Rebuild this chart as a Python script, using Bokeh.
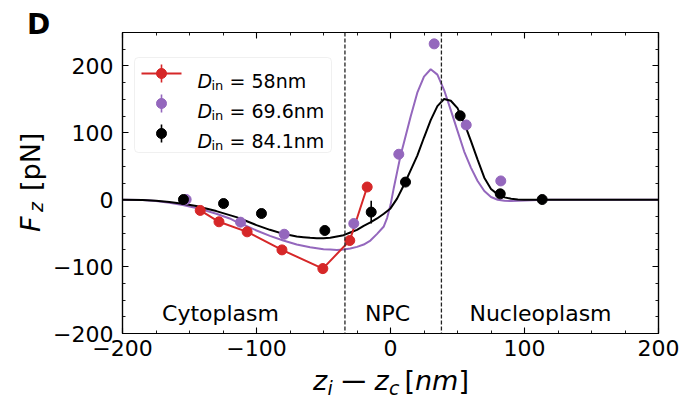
import math
from bokeh.plotting import figure
from bokeh.layouts import row, column
from bokeh.models import (LinearAxis, SingleIntervalTicker, Label, Span,
                          BoxAnnotation, Div)
from bokeh.embed import file_html
from bokeh.resources import INLINE

# ---------------- data ----------------
red_x = [-142, -128, -107, -81, -50.5, -30.4, -17.4]
red_y = [-16, -33, -48, -75, -103, -61, 19]
red_err = [3, 3, 3, 4, 7.5, 3, 3]

purple_x = [-152.5, -111.9, -79.3, -27.4, 6.2, 32.6, 56.5, 82.3]
purple_y = [0.3, -33.6, -51.6, -35.6, 68, 233, 111.8, 28.1]

black_x = [-154.5, -124.6, -96.3, -49, -14.4, 11.2, 52, 81.9, 113.2]
black_y = [0.3, -5.7, -20.6, -46, -18.5, 26.4, 125.5, 8.8, 0.3]
black_err = [1, 2, 3, 4, 17, 4, 4, 3, 1]

purple_curve_x = [-200, -185, -175, -165, -155, -145, -140, -130, -120, -115, -110, -100,
                  -90, -80, -70, -60, -50, -45, -40, -35, -30, -25, -20, -15, -10, -5,
                  -2.5, 0, 2.5, 5, 7.5, 10, 15, 20, 25, 30, 35, 40, 45, 50, 55, 60, 65,
                  70, 75, 80, 85, 90, 95, 100, 110, 120, 200]
purple_curve_y = [0, -0.5, -2, -4.5, -8, -12.5, -15, -21, -28, -33, -37, -46,
                  -54, -61, -67, -71, -74, -74.5, -75, -74.5, -73, -70.5, -67, -61, -51, -40,
                  -27, -8, 18, 42, 66, 85, 124, 160, 184, 195, 187, 164, 134, 103, 72, 48, 28,
                  13, 4, 0, -1.5, -2, -1.5, -1, -0.3, 0, 0]

black_curve_x = [-200, -185, -175, -165, -155, -145, -140, -130, -120, -115, -110, -100,
                 -90, -80, -70, -65, -60, -55, -50, -45, -40, -35, -30, -25, -20, -15, -10,
                 -5, 0, 5, 10, 15, 20, 25, 30, 35, 40, 45, 50, 55, 60, 65, 70, 75, 80, 85,
                 90, 95, 100, 200]
black_curve_y = [0, -0.5, -1.5, -3.5, -6, -9.5, -12, -17, -23, -26, -30, -38,
                 -45, -51, -55, -56, -57, -57.5, -57.5, -57, -55, -53, -49, -45, -39, -34, -28,
                 -21, -13, 2, 22, 44, 66, 93, 119, 140, 150.5, 148, 137, 115, 88, 60, 33, 16, 8, 3.5,
                 1.5, 0.5, 0, 0]

region_bounds = [-34, 38]
region_names = ["Cytoplasm", "NPC", "Nucleoplasm"]
legend_values = ["58nm", "69.6nm", "84.1nm"]
x_ticks_minus = {-200: "\u2212200", -100: "\u2212100"}
y_ticks_minus = {-200: "\u2212200", -100: "\u2212100"}

RED = "#d62728"
PURPLE = "#9467bd"
BLACK = "#000000"

# ---------------- layout ----------------
W, H = 683, 398
LEFT_DIV_W = 50          # column holding the y label and the panel letter
FIG_H = 365              # figure height; x label strip below it
FL, FR, FT, FB = 122, 658, 32, 333      # frame edges in page pixels
XMIN, XMAX, YMIN, YMAX = -200, 200, -200, 250
FONT = "DejaVu Sans"


def dx(px):
    return XMIN + (px - FL) * (XMAX - XMIN) / (FR - FL)


def dy(py):
    return YMAX - (py - FT) * (YMAX - YMIN) / (FB - FT)


p = figure(width=W - LEFT_DIV_W, height=FIG_H, x_range=(XMIN, XMAX), y_range=(YMIN, YMAX),
           output_backend="svg", toolbar_location=None,
           min_border_left=FL - LEFT_DIV_W, min_border_right=W - FR,
           min_border_top=FT, min_border_bottom=FIG_H - FB, margin=0)
p.xgrid.visible = False
p.ygrid.visible = False
p.background_fill_color = "white"
p.border_fill_color = "white"
p.outline_line_color = "black"
p.outline_line_width = 1.2


def style_axis(ax, show_labels, standoff):
    ax.ticker = SingleIntervalTicker(interval=100, num_minor_ticks=4)
    ax.axis_line_color = "black"
    ax.axis_line_width = 1.2
    ax.major_tick_line_color = "black"
    ax.minor_tick_line_color = "black"
    ax.major_tick_in = 6
    ax.major_tick_out = 0
    ax.minor_tick_in = 3
    ax.minor_tick_out = 0
    ax.major_tick_line_width = 1.1
    ax.minor_tick_line_width = 0.9
    ax.axis_label = None
    if show_labels:
        ax.major_label_text_font = FONT
        ax.major_label_text_font_size = "22px"
        ax.major_label_text_color = "black"
        ax.major_label_standoff = standoff
    else:
        ax.major_label_text_font_size = "1px"
        ax.major_label_text_color = None
        ax.major_label_text_alpha = 0
        ax.major_label_standoff = 0


style_axis(p.xaxis[0], True, 6)
style_axis(p.yaxis[0], True, 9)
p.xaxis[0].major_label_overrides = x_ticks_minus
p.yaxis[0].major_label_overrides = y_ticks_minus

top_ax = LinearAxis()
style_axis(top_ax, False, 0)
p.add_layout(top_ax, "above")
right_ax = LinearAxis()
style_axis(right_ax, False, 0)
p.add_layout(right_ax, "right")

# region boundaries
for b in region_bounds:
    p.add_layout(Span(location=b, dimension="height", line_color="#222222",
                      line_width=1.3, line_dash="4 2"))

# fitted curves
p.line(purple_curve_x, purple_curve_y, line_color=PURPLE, line_width=2)
p.line(black_curve_x, black_curve_y, line_color=BLACK, line_width=2)

# red series (line + error bars + markers)
p.line(red_x, red_y, line_color=RED, line_width=2)
p.segment(x0=red_x, y0=[y - e for y, e in zip(red_y, red_err)],
          x1=red_x, y1=[y + e for y, e in zip(red_y, red_err)],
          line_color=RED, line_width=1.6)
p.scatter(red_x, red_y, size=10, fill_color=RED, line_color=RED)

# purple markers
p.scatter(purple_x, purple_y, size=10, fill_color=PURPLE, line_color=PURPLE)

# black markers with error bars
p.segment(x0=black_x, y0=[y - e for y, e in zip(black_y, black_err)],
          x1=black_x, y1=[y + e for y, e in zip(black_y, black_err)],
          line_color=BLACK, line_width=1.6)
p.scatter(black_x, black_y, size=10, fill_color=BLACK, line_color=BLACK)

# region names
region_px = [220, 387, 540]
for name, cx in zip(region_names, region_px):
    p.add_layout(Label(x=dx(cx), y=dy(313), text=name, text_font=FONT,
                       text_font_size="22px", text_color="black",
                       text_align="center", text_baseline="alphabetic"))

# ---------------- legend (manual) ----------------
p.add_layout(BoxAnnotation(left=dx(134), right=dx(331), top=dy(57), bottom=dy(152),
                           fill_color="white", fill_alpha=0.8,
                           line_color="#cccccc", line_width=1, border_radius=4,
                           level="underlay"))
rows_py = [73, 103, 133]
colors = [RED, PURPLE, BLACK]
for i, (ry, col, val) in enumerate(zip(rows_py, colors, legend_values)):
    if i == 0:
        p.line([dx(141), dx(181)], [dy(ry), dy(ry)], line_color=col, line_width=2)
    p.segment(x0=[dx(161)], y0=[dy(ry + 9)], x1=[dx(161)], y1=[dy(ry - 9)],
              line_color=col, line_width=1.6)
    p.scatter([dx(161)], [dy(ry)], size=10, fill_color=col, line_color=col)
    p.add_layout(Label(x=dx(197), y=dy(ry + 7), text="D", text_font=FONT,
                       text_font_style="italic", text_font_size="19px",
                       text_color="black", text_baseline="alphabetic"))
    p.add_layout(Label(x=dx(211), y=dy(ry + 12), text="in", text_font=FONT,
                       text_font_size="13px", text_color="black",
                       text_baseline="alphabetic"))
    p.add_layout(Label(x=dx(229), y=dy(ry + 7), text="= " + val, text_font=FONT,
                       text_font_size="19px", text_color="black",
                       text_baseline="alphabetic"))


# ---------------- outside texts (HTML, mixed italic) ----------------
def span(text, left, baseline, size, style="normal", weight="normal", rotate=False,
         stretch=1.0):
    b = 0.846 * size  # baseline offset inside a line-height:1 box (DejaVu Sans)
    if rotate:
        pos = "left:%.1fpx;top:%.1fpx;transform-origin:0 0;transform:rotate(-90deg);" % (
            baseline - b, left)
    else:
        pos = "left:%.1fpx;top:%.1fpx;" % (left, baseline - b)
        if stretch != 1.0:
            pos += "transform-origin:0 0;transform:scaleX(%.2f);" % stretch
    return ('<span style="position:absolute;%swhite-space:nowrap;line-height:1;'
            'font-family:\'DejaVu Sans\';font-size:%dpx;font-style:%s;font-weight:%s;'
            'color:black;">%s</span>' % (pos, size, style, weight, text))


# y label pieces: (text, start y (bottom end), baseline x, size, style)
yl_parts = [("F", 232, 39.5, 27, "italic"), ("z", 211.5, 43.5, 19, "italic"),
            ("[pN]", 191, 39.5, 27, "normal")]
left_html = "".join(span(t, sy, bx, sz, st, rotate=True) for t, sy, bx, sz, st in yl_parts)
left_html += span("D", 27, 35, 28, weight="bold")
left_div = Div(text='<div style="position:relative;width:%dpx;height:%dpx;">%s</div>'
               % (LEFT_DIV_W, H, left_html),
               width=LEFT_DIV_W, height=H, margin=0)

# x label pieces: (text, left x (page), baseline y (page), size, style, stretch)
xl_parts = [("z", 313, 390, 27, "italic", 1.0), ("i", 327.5, 395, 19, "italic", 1.0),
            ("\u2212", 339, 390, 27, "normal", 1.3), ("z", 374.5, 390, 27, "italic", 1.0),
            ("c", 389, 395, 19, "italic", 1.0), ("[", 404.5, 390, 27, "normal", 1.0),
            ("nm", 415, 390, 27, "italic", 1.0), ("]", 458.5, 390, 27, "normal", 1.0)]
bottom_html = "".join(span(t, x - LEFT_DIV_W, y - FIG_H, sz, st, stretch=s)
                      for t, x, y, sz, st, s in xl_parts)
bottom_div = Div(text='<div style="position:relative;width:%dpx;height:%dpx;">%s</div>'
                 % (W - LEFT_DIV_W, H - FIG_H, bottom_html),
                 width=W - LEFT_DIV_W, height=H - FIG_H, margin=0)

layout = row(left_div, column(p, bottom_div, spacing=0, margin=0), spacing=0, margin=0)

open("out.html", "w").write(file_html(layout, INLINE))
